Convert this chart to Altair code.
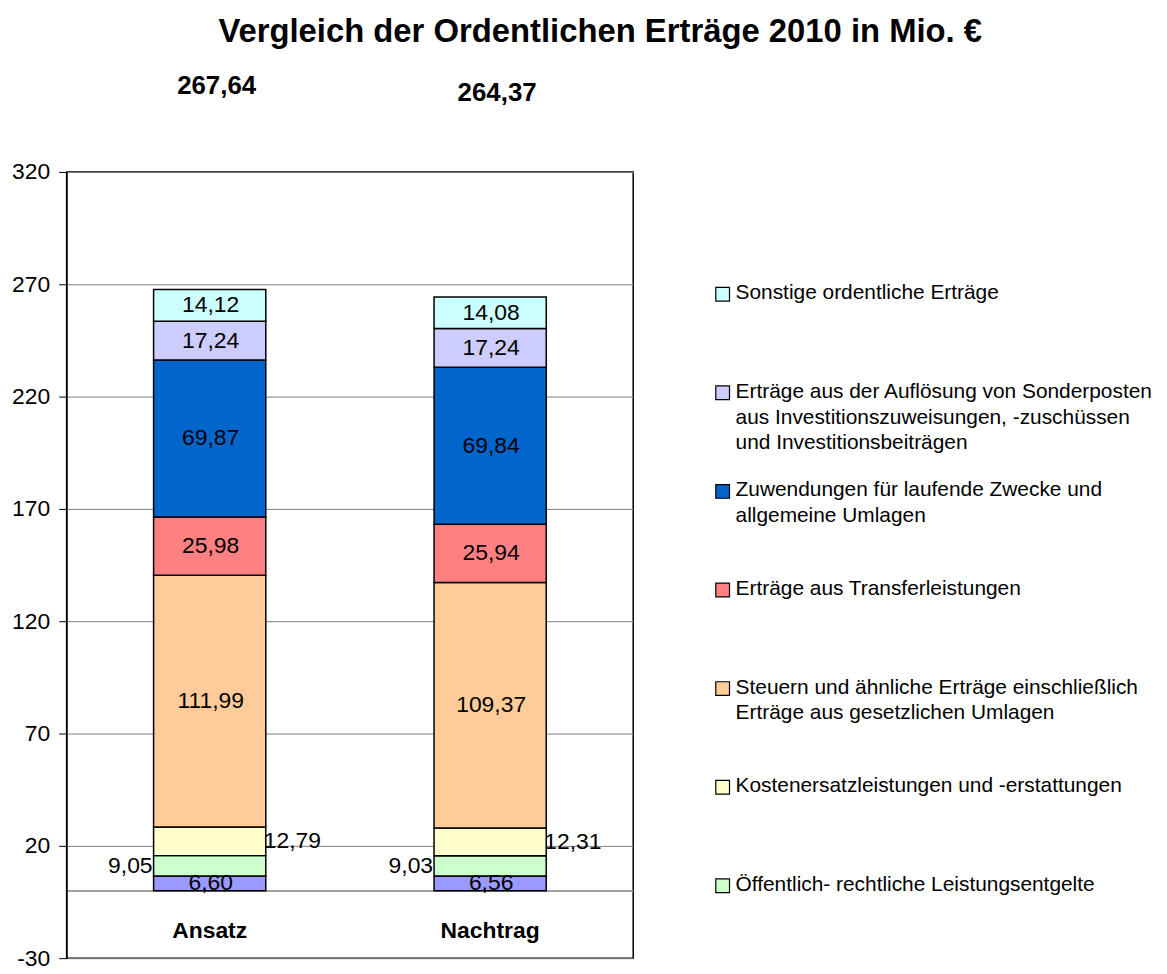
import altair as alt
import pandas as pd

categories = ["Ansatz", "Nachtrag"]
series = [
    "Privatrechtliche Leistungsentgelte",
    "Öffentlich- rechtliche Leistungsentgelte",
    "Kostenersatzleistungen und -erstattungen",
    "Steuern und ähnliche Erträge einschließlich Erträge aus gesetzlichen Umlagen",
    "Erträge aus Transferleistungen",
    "Zuwendungen für laufende Zwecke und allgemeine Umlagen",
    "Erträge aus der Auflösung von Sonderposten aus Investitionszuweisungen, -zuschüssen und Investitionsbeiträgen",
    "Sonstige ordentliche Erträge",
]
colors = ["#9999FF", "#CCFFCC", "#FFFFCC", "#FFCC99", "#FF8080", "#0066CC", "#CCCCFF", "#CCFFFF"]
ansatz = [6.60, 9.05, 12.79, 111.99, 25.98, 69.87, 17.24, 14.12]
nachtrag = [6.56, 9.03, 12.31, 109.37, 25.94, 69.84, 17.24, 14.08]
totals = [267.64, 264.37]
# label placement: center / left of bar / right of bar
label_pos = ["center", "left", "right", "center", "center", "center", "center", "center"]
y_ticks = [-30, 20, 70, 120, 170, 220, 270, 320]

legend_labels = [
    "Sonstige ordentliche Erträge",
    "Erträge aus der Auflösung von Sonderposten\naus Investitionszuweisungen, -zuschüssen\nund Investitionsbeiträgen",
    "Zuwendungen für laufende Zwecke und\nallgemeine Umlagen",
    "Erträge aus Transferleistungen",
    "Steuern und ähnliche Erträge einschließlich\nErträge aus gesetzlichen Umlagen",
    "Kostenersatzleistungen und -erstattungen",
    "Öffentlich- rechtliche Leistungsentgelte",
]
legend_colors = ["#CCFFFF", "#CCCCFF", "#0066CC", "#FF8080", "#FFCC99", "#FFFFCC", "#CCFFCC"]

FONT = "Liberation Sans"

rows = []
for cat, vals in zip(categories, [ansatz, nachtrag]):
    base = 0.0
    for i, (s, v) in enumerate(zip(series, vals)):
        rows.append({
            "cat": cat, "series": s, "order": i, "v0": base, "v1": base + v,
            "mid": base + v / 2, "label": f"{v:.2f}".replace(".", ","), "pos": label_pos[i],
        })
        base += v
df = pd.DataFrame(rows)
tot_df = pd.DataFrame({"cat": categories, "total": totals,
                       "label": [f"{t:.2f}".replace(".", ",") for t in totals]})

xscale = alt.Scale(domain=categories, paddingInner=0.6, paddingOuter=0.31)
yscale = alt.Scale(domain=[-30, 320], nice=False, zero=False)

bars = alt.Chart(df).mark_bar(stroke="black", strokeWidth=1.5).encode(
    x=alt.X("cat:N", scale=xscale, sort=categories,
            axis=alt.Axis(title=None, labelAngle=0, labelFont=FONT, labelFontSize=23,
                          labelFontWeight="bold", labelColor="black", offset=-68,
                          labelPadding=29, domainColor="#808080", domainWidth=1.5,
                          ticks=False, grid=False)),
    y=alt.Y("v0:Q", scale=yscale,
            axis=alt.Axis(title=None, values=y_ticks,
                          labelExpr="datum.value < 0 ? '-' + abs(datum.value) : '' + datum.value",
                          labelFont=FONT, labelFontSize=23, labelColor="black",
                          tickColor="black", tickSize=8, labelPadding=9,
                          domainColor="black", gridColor="#808080", gridWidth=1)),
    y2="v1:Q",
    color=alt.Color("series:N", scale=alt.Scale(domain=series, range=colors), legend=None),
    order=alt.Order("order:Q"),
)

def seg_text(pos, align, dx, band):
    return alt.Chart(df).transform_filter(alt.datum.pos == pos).mark_text(
        font=FONT, fontSize=23, color="black", align=align, baseline="middle", dx=dx
    ).encode(
        x=alt.X("cat:N", scale=xscale, sort=categories, bandPosition=band),
        y=alt.Y("mid:Q", scale=yscale),
        text="label:N",
    )

t_center = seg_text("center", "center", 1, 0.5)
t_left = seg_text("left", "right", -1, 0)
t_right = seg_text("right", "left", -2, 1)

tot_text = alt.Chart(tot_df).mark_text(
    font=FONT, fontSize=26, fontWeight="bold", color="black", dy=-205, dx=7,
    baseline="middle"
).encode(
    x=alt.X("cat:N", scale=xscale, sort=categories),
    y=alt.Y("total:Q", scale=yscale),
    text="label:N",
)

main = alt.layer(bars, t_center, t_left, t_right, tot_text).properties(
    width=570, height=791,
    view=alt.ViewBackground(stroke="black", strokeWidth=1.5),
)

leg_df = pd.DataFrame({"idx": list(range(len(legend_labels))), "label": legend_labels,
                       "color": legend_colors})
leg_y = alt.Scale(domain=[-1.24, 6.734], reverse=True, nice=False, zero=False)
leg_sq = alt.Chart(leg_df).mark_point(shape="square", size=190, filled=True,
                                     stroke="black", strokeWidth=1.2, opacity=1).encode(
    x=alt.value(68),
    y=alt.Y("idx:Q", scale=leg_y, axis=None),
    fill=alt.Fill("color:N", scale=None),
)
leg_tx = alt.Chart(leg_df).mark_text(font=FONT, fontSize=21, color="black", align="left",
                                    baseline="top", dy=-12, lineBreak="\n",
                                    lineHeight=26).encode(
    x=alt.value(81),
    y=alt.Y("idx:Q", scale=leg_y, axis=None),
    text="label:N",
)
legend = alt.layer(leg_sq, leg_tx).properties(
    width=490, height=791,
    view=alt.ViewBackground(stroke="transparent"),
)

chart = alt.hconcat(main, legend, spacing=20).properties(
    title=alt.TitleParams("Vergleich der Ordentlichen Erträge 2010 in Mio. €", font=FONT,
                          fontSize=33, fontWeight="bold", color="black", anchor="middle",
                          offset=23, dx=18),
    padding={"left": 2, "top": 5, "right": 5, "bottom": 5},
).configure(background="white")

chart.save("out.html", embed_options={"renderer": "svg", "actions": False})
